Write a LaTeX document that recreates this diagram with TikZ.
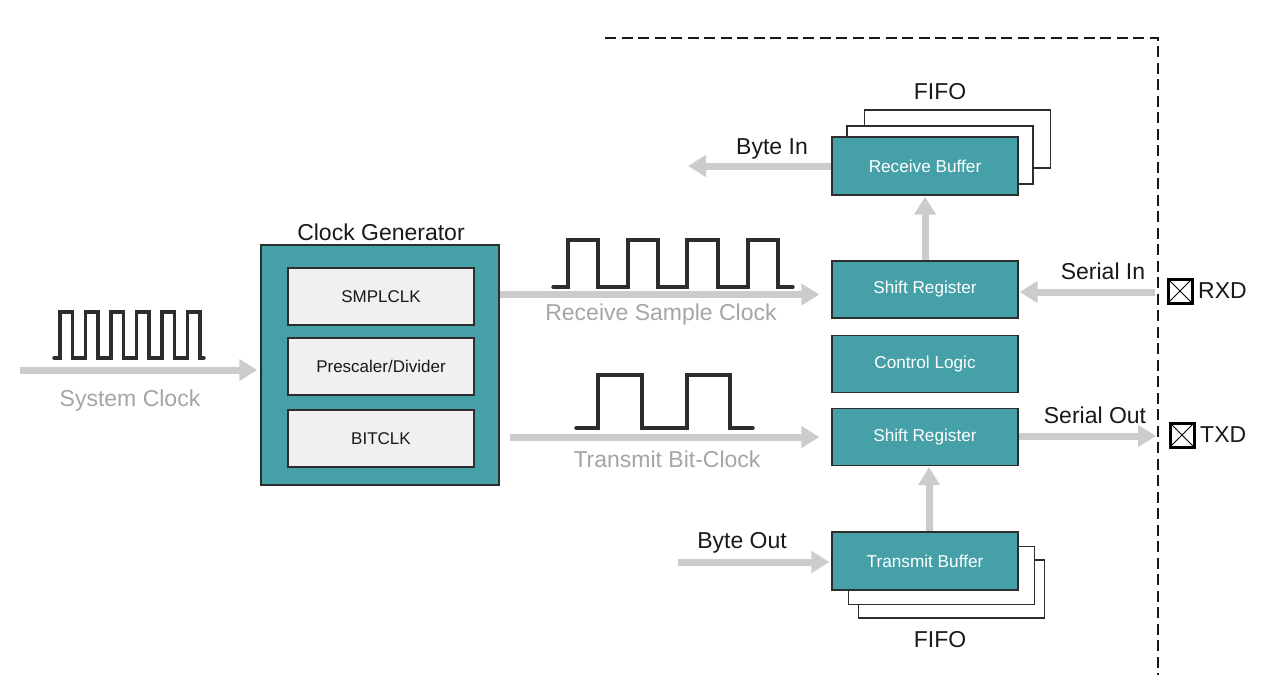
\documentclass[tikz,border=0pt]{standalone}
\usepackage{fontspec}
\setmainfont{Liberation Sans}
\usetikzlibrary{arrows.meta,calc}
\definecolor{teal}{RGB}{69,160,168}
\definecolor{edge}{RGB}{45,45,45}
\definecolor{panel}{RGB}{240,240,240}
\definecolor{flow}{RGB}{204,204,204}
\definecolor{mute}{RGB}{165,165,165}
\definecolor{ink}{RGB}{25,25,25}
\begin{document}
\begin{tikzpicture}[x=1pt,y=-1pt,
  unitbox/.style={draw=edge,line width=1.4pt,fill=teal,text=white,minimum width=186pt,minimum height=57pt,inner sep=0pt,font=\fontsize{17.2}{20}\selectfont},
  plate/.style={draw=edge,line width=1.2pt,fill=white,minimum width=186pt,minimum height=58pt,inner sep=0pt},
  subbox/.style={draw=edge,line width=1.3pt,fill=panel,text=ink,minimum width=186pt,minimum height=57pt,inner sep=0pt,font=\fontsize{17}{20}\selectfont},
  flowarrow/.style={draw=flow,line width=7pt,-{Triangle[length=18pt,width=21pt]}},
  wave/.style={draw=edge,line width=3.4pt,line cap=round,line join=miter},
  biglabel/.style={text=ink,inner sep=0pt,font=\fontsize{23}{27}\selectfont},
  greylabel/.style={text=mute,inner sep=0pt,font=\fontsize{23}{27}\selectfont},
  pinbox/.style={draw=black,line width=3pt,minimum width=24pt,minimum height=24pt,inner sep=0pt,
    path picture={\draw[line width=1pt] (path picture bounding box.north west) -- (path picture bounding box.south east)
      (path picture bounding box.north east) -- (path picture bounding box.south west);}},
  boundary/.style={draw=ink,line width=1.5pt,dash pattern=on 11pt off 5.5pt}
]
\useasboundingbox (0,0) rectangle (1265,675);

% peripheral boundary
\coordinate (bTL) at (605,38);
\coordinate (bTR) at (1158,38);
\coordinate (bBR) at (1158,675);
\draw[boundary] (bTL) -- (bTR) -- (bBR);

% clock generator
\node[draw=edge,line width=1.5pt,fill=teal,minimum width=238pt,minimum height=240pt,inner sep=0pt] (clkgen) at (380,365) {};
\node[biglabel] (clkgentitle) at (381,232) {Clock Generator};
\node[subbox] (smplclk) at (381,296.5) {SMPLCLK};
\node[subbox] (presc) at (381,366.5) {Prescaler/Divider};
\node[subbox] (bitclk) at (381,438.5) {BITCLK};

% receive buffer stack
\node[plate] (rxplate3) at (957.5,139) {};
\node[plate] (rxplate2) at (940,155) {};
\node[unitbox,minimum height=58pt] (rxbuf) at (925,166) {Receive Buffer};
\node[biglabel] (rxfifo) at (940,92) {FIFO};

% shift registers and control
\node[unitbox] (rxsr) at (925,289.5) {Shift Register};
\node[unitbox] (ctrl) at (925,364) {Control Logic};
\node[unitbox] (txsr) at (925,437) {Shift Register};

% transmit buffer stack
\node[plate] (txplate3) at (951.5,589) {};
\node[plate] (txplate2) at (941.5,575.5) {};
\node[unitbox,minimum height=58pt] (txbuf) at (925,561) {Transmit Buffer};
\node[biglabel] (txfifo) at (940,640) {FIFO};

% system clock input
\coordinate (sysin) at (20,370);
\draw[flowarrow,shorten >=3pt] (sysin) -- (clkgen.west |- sysin);
\draw[wave] (54,358) foreach \k in {0,...,5}{
  -- ({60+25.5*\k},358) -- ({60+25.5*\k},312) -- ({72.5+25.5*\k},312) -- ({72.5+25.5*\k},358)} -- (204,358);
\node[greylabel] (syslbl) at (130,401) {System Clock};

% receive sample clock
\coordinate (rscend) at ($(rxsr.west)+(0,5)$);
\draw[flowarrow,shorten >=12pt] (clkgen.east |- rscend) -- (rscend);
\draw[wave] (553,287)
  -- (568,287) -- (568,240) -- (598,240) -- (598,287)
  -- (628,287) -- (628,240) -- (658,240) -- (658,287)
  -- (687,287) -- (687,240) -- (718,240) -- (718,287)
  -- (748,287) -- (748,240) -- (778,240) -- (778,287) -- (793,287);
\node[greylabel] (rsclbl) at (661,315) {Receive Sample Clock};

% transmit bit clock
\coordinate (tbcstart) at ($(clkgen.east |- txsr.west)+(10,0)$);
\draw[flowarrow,shorten >=12pt] (tbcstart) -- (txsr.west);
\draw[wave] (576,428)
  -- (598,428) -- (598,375) -- (642,375) -- (642,428)
  -- (687,428) -- (687,375) -- (730,375) -- (730,428) -- (753,428);
\node[greylabel] (tbclbl) at (667,459) {Transmit Bit-Clock};

% byte in / byte out
\coordinate (byteinend) at (688,166);
\draw[flowarrow] (rxbuf.west) -- (byteinend);
\node[biglabel] (byteinlbl) at (772,149) {Byte In};
\coordinate (byteoutstart) at (678,562);
\draw[flowarrow,shorten >=2pt] (byteoutstart) -- (txbuf.west |- byteoutstart);
\node[biglabel] (byteoutlbl) at (742,543) {Byte Out};

% internal transfers
\draw[flowarrow,shorten >=1pt] (rxsr.north) -- (rxbuf.south);
\draw[flowarrow,shorten >=1pt] ($(txbuf.north)+(4,0)$) -- ($(txsr.south)+(4,0)$);

% serial lines and pins
\coordinate (serin) at (1155,292);
\draw[flowarrow,shorten >=1pt] (serin) -- (rxsr.east |- serin);
\node[biglabel] (serinlbl) at (1103,271) {Serial In};
\coordinate (serout) at (1156,436);
\draw[flowarrow] (txsr.east |- serout) -- (serout);
\node[biglabel] (seroutlbl) at (1095,415) {Serial Out};

\node[pinbox] (rxdpin) at (1180,291) {};
\node[biglabel,anchor=west] (rxdlbl) at (1198,291) {RXD};
\node[pinbox] (txdpin) at (1182,435) {};
\node[biglabel,anchor=west] (txdlbl) at (1200,435) {TXD};
\end{tikzpicture}
\end{document}
